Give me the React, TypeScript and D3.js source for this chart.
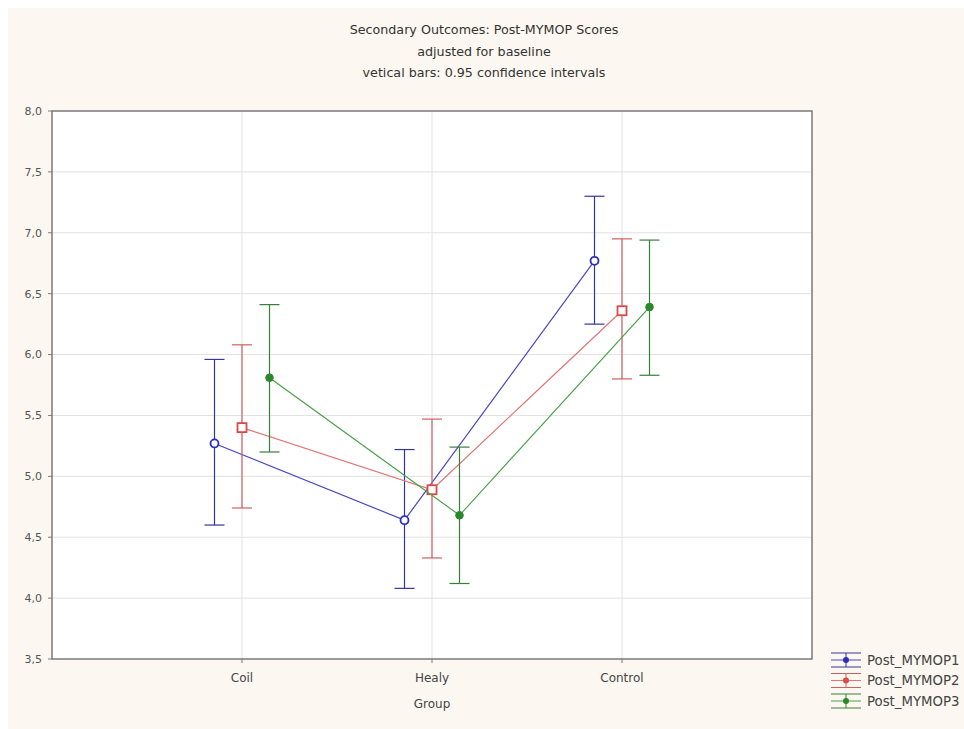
import React from "react";
import * as d3 from "d3";

const groups = ["Coil", "Healy", "Control"];
const seriesNames = ["Post_MYMOP1", "Post_MYMOP2", "Post_MYMOP3"];
const mymop1Mean = [5.27, 4.64, 6.77];
const mymop1Low = [4.6, 4.08, 6.25];
const mymop1High = [5.96, 5.22, 7.3];
const mymop2Mean = [5.4, 4.89, 6.36];
const mymop2Low = [4.74, 4.33, 5.8];
const mymop2High = [6.08, 5.47, 6.95];
const mymop3Mean = [5.81, 4.68, 6.39];
const mymop3Low = [5.2, 4.12, 5.83];
const mymop3High = [6.41, 5.24, 6.94];
const yTicks = [3.5, 4.0, 4.5, 5.0, 5.5, 6.0, 6.5, 7.0, 7.5, 8.0];
const titleLines = [
  "Secondary Outcomes: Post-MYMOP Scores",
  "adjusted for baseline",
  "vetical bars: 0.95 confidence intervals",
];

const series = [
  { name: seriesNames[0], mean: mymop1Mean, low: mymop1Low, high: mymop1High, color: "#34349a", line: "#4646c8", mk: "#2c2cc0", marker: "circle", offset: -1 },
  { name: seriesNames[1], mean: mymop2Mean, low: mymop2Low, high: mymop2High, color: "#d06060", line: "#e07676", mk: "#dc4848", marker: "square", offset: 0 },
  { name: seriesNames[2], mean: mymop3Mean, low: mymop3Low, high: mymop3High, color: "#3a7e3a", line: "#48a048", mk: "#2a882a", marker: "dot", offset: 1 },
];

const L = 52, R = 812, T = 111, B = 659;
const font = "'DejaVu Sans', Verdana, sans-serif";

function Marker({ type, x, y, color }: { type: string; x: number; y: number; color: string }) {
  if (type === "circle") return <circle cx={x} cy={y} r={4} fill="#ffffff" stroke={color} strokeWidth={1.8} />;
  if (type === "square") return <rect x={x - 4.5} y={y - 4.5} width={9} height={9} fill="#ffffff" stroke={color} strokeWidth={1.8} />;
  return <circle cx={x} cy={y} r={3.8} fill={color} stroke={color} strokeWidth={1} />;
}

export default function App() {
  const x = d3.scaleLinear().domain([0, 4]).range([L, R]);
  const y = d3.scaleLinear().domain([3.5, 8.0]).range([B, T]);
  const off = 27.5;
  const fmt = (v: number) => d3.format(".1f")(v).replace(".", ",");
  const lineGen = d3.line<[number, number]>().x((d) => d[0]).y((d) => d[1]);

  return (
    <svg width={956} height={721} style={{ position: "fixed", left: 8, top: 8, display: "block" }}>
      <g transform="translate(-8,-8)">
        <rect x={8} y={8} width={956} height={721} fill="#fcf8f1" />
        <rect x={L} y={T} width={R - L} height={B - T} fill="#ffffff" />
        {yTicks.slice(1, -1).map((t) => (
          <line key={"gy" + t} x1={L} x2={R} y1={y(t)} y2={y(t)} stroke="#e2e2e2" strokeWidth={1} />
        ))}
        {groups.map((g, i) => (
          <line key={"gx" + g} x1={x(i + 1)} x2={x(i + 1)} y1={T} y2={B} stroke="#e2e2e2" strokeWidth={1} />
        ))}
        <rect x={L} y={T} width={R - L} height={B - T} fill="none" stroke="#7a7a7a" strokeWidth={1.5} />
        {yTicks.map((t) => (
          <g key={"yt" + t}>
            <line x1={L - 4} x2={L} y1={y(t)} y2={y(t)} stroke="#7a7a7a" />
            <text x={L - 10} y={y(t)} dy="0.35em" textAnchor="end" fontFamily={font} fontSize={11} fill="#555">
              {fmt(t)}
            </text>
          </g>
        ))}
        {groups.map((g, i) => (
          <g key={"xt" + g}>
            <line x1={x(i + 1)} x2={x(i + 1)} y1={B} y2={B + 4} stroke="#7a7a7a" />
            <text x={x(i + 1)} y={678} dy="0.35em" textAnchor="middle" fontFamily={font} fontSize={12} fill="#444">
              {g}
            </text>
          </g>
        ))}
        <text x={x(2)} y={704} dy="0.35em" textAnchor="middle" fontFamily={font} fontSize={12} fill="#444">Group</text>
        {titleLines.map((s, i) => (
          <text key={s} x={484} y={30 + i * 21.5} dy="0.35em" textAnchor="middle" fontFamily={font} fontSize={12.7} fill="#333">
            {s}
          </text>
        ))}
        {series.map((s) => {
          const pts: [number, number][] = s.mean.map((m, i) => [x(i + 1) + s.offset * off, y(m)]);
          return (
            <g key={s.name}>
              <path d={lineGen(pts) || ""} fill="none" stroke={s.line} strokeWidth={1.2} />
              {s.mean.map((m, i) => {
                const cx = x(i + 1) + s.offset * off;
                return (
                  <g key={i}>
                    <line x1={cx} x2={cx} y1={y(s.low[i])} y2={y(s.high[i])} stroke={s.color} strokeWidth={1.2} />
                    <line x1={cx - 10} x2={cx + 10} y1={y(s.low[i])} y2={y(s.low[i])} stroke={s.color} strokeWidth={1.2} />
                    <line x1={cx - 10} x2={cx + 10} y1={y(s.high[i])} y2={y(s.high[i])} stroke={s.color} strokeWidth={1.2} />
                  </g>
                );
              })}
              {pts.map((p, i) => (
                <Marker key={i} type={s.marker} x={p[0]} y={p[1]} color={s.mk} />
              ))}
            </g>
          );
        })}
        {series.map((s, i) => {
          const cy = 660 + i * 20.5;
          const cx = 846;
          return (
            <g key={"lg" + s.name}>
              <line x1={cx - 15} x2={cx + 15} y1={cy - 7} y2={cy - 7} stroke={s.color} strokeWidth={1} />
              <line x1={cx - 15} x2={cx + 15} y1={cy} y2={cy} stroke={s.line} strokeWidth={1} />
              <line x1={cx - 15} x2={cx + 15} y1={cy + 7} y2={cy + 7} stroke={s.color} strokeWidth={1} />
              <line x1={cx} x2={cx} y1={cy - 7} y2={cy + 7} stroke={s.color} strokeWidth={1} />
              <circle cx={cx} cy={cy} r={3} fill={s.mk} />
              <text x={867} y={cy} dy="0.35em" fontFamily={font} fontSize={13.3} fill="#444">{s.name}</text>
            </g>
          );
        })}
      </g>
    </svg>
  );
}
